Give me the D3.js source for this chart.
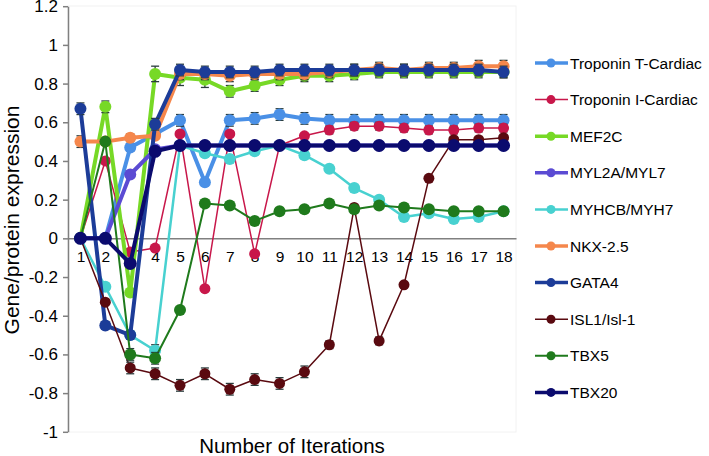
<!DOCTYPE html>
<html>
<head>
<meta charset="utf-8">
<script src="https://cdn.jsdelivr.net/npm/d3@7"></script>
<style>
  body { margin: 0; background: #fff; }
  svg { font-family: "Liberation Sans", Arial, sans-serif; }
</style>
</head>
<body>
<script>
// Iterations on the x axis
const iterations = d3.range(1, 19);
const yTicks = [-1, -0.8, -0.6, -0.4, -0.2, 0, 0.2, 0.4, 0.6, 0.8, 1, 1.2];

const seriesNames = ["Troponin T-Cardiac", "Troponin I-Cardiac", "MEF2C", "MYL2A/MYL7",
  "MYHCB/MYH7", "NKX-2.5", "GATA4", "ISL1/Isl-1", "TBX5", "TBX20"];

// values, one per iteration
const troponinT = [0, 0, 0.47, 0.54, 0.61, 0.29, 0.61, 0.62, 0.64, 0.62, 0.61, 0.61, 0.61, 0.61, 0.61, 0.61, 0.61, 0.61];
const troponinI = [0, 0.4, -0.07, -0.05, 0.54, -0.26, 0.54, -0.08, 0.48, 0.53, 0.56, 0.58, 0.58, 0.57, 0.56, 0.56, 0.57, 0.57];
const mef2c     = [0, 0.68, -0.28, 0.85, 0.83, 0.82, 0.76, 0.79, 0.82, 0.84, 0.84, 0.85, 0.86, 0.86, 0.86, 0.86, 0.86, 0.86];
const myl2a     = [0, 0, 0.33, 0.46, 0.48, 0.48, 0.48, 0.48, 0.48, 0.48, 0.48, 0.48, 0.48, 0.48, 0.48, 0.48, 0.48, 0.48];
const myhcb     = [0, -0.25, -0.5, -0.58, 0.48, 0.44, 0.41, 0.45, 0.48, 0.43, 0.36, 0.26, 0.2, 0.11, 0.13, 0.1, 0.11, 0.14];
const nkx25     = [0.5, 0.5, 0.52, 0.53, 0.85, 0.85, 0.84, 0.85, 0.85, 0.85, 0.86, 0.87, 0.88, 0.87, 0.88, 0.88, 0.89, 0.89];
const gata4     = [0.67, -0.45, -0.5, 0.59, 0.87, 0.86, 0.86, 0.86, 0.87, 0.87, 0.87, 0.87, 0.87, 0.87, 0.87, 0.87, 0.87, 0.86];
const isl1      = [0, -0.33, -0.67, -0.7, -0.76, -0.7, -0.78, -0.73, -0.75, -0.69, -0.55, 0.16, -0.53, -0.24, 0.31, 0.51, 0.51, 0.52];
const tbx5      = [0, 0.5, -0.6, -0.62, -0.37, 0.18, 0.17, 0.09, 0.14, 0.15, 0.18, 0.15, 0.17, 0.16, 0.15, 0.14, 0.14, 0.14];
const tbx20     = [0, 0, -0.13, 0.45, 0.48, 0.48, 0.48, 0.48, 0.48, 0.48, 0.48, 0.48, 0.48, 0.48, 0.48, 0.48, 0.48, 0.48];

// error bar half-heights (0 = no bar)
const errTroponinT = [0, 0, 0.02, 0.02, 0.03, 0, 0.03, 0.03, 0.03, 0.03, 0.03, 0.03, 0.03, 0.03, 0.03, 0.03, 0.03, 0.03];
const errTroponinI = [0, 0, 0, 0, 0, 0, 0, 0, 0, 0, 0.02, 0.02, 0.02, 0.02, 0.02, 0.02, 0.02, 0.02];
const errMef2c     = [0, 0.03, 0, 0.04, 0.04, 0.04, 0.03, 0.03, 0.03, 0.03, 0.03, 0.03, 0.03, 0.03, 0.03, 0.03, 0.03, 0.03];
const errMyl2a     = [0, 0, 0, 0, 0, 0, 0, 0, 0, 0, 0, 0, 0, 0, 0, 0, 0, 0];
const errMyhcb     = [0, 0, 0, 0.03, 0, 0, 0, 0, 0, 0, 0, 0, 0, 0, 0, 0, 0, 0];
const errNkx25     = [0.03, 0, 0.02, 0, 0.03, 0.03, 0.03, 0.03, 0.03, 0.03, 0.03, 0.03, 0.03, 0.03, 0.03, 0.03, 0.03, 0.03];
const errGata4     = [0.03, 0.02, 0.02, 0.03, 0.03, 0.03, 0.03, 0.03, 0.03, 0.03, 0.03, 0.03, 0.03, 0.03, 0.03, 0.03, 0.03, 0.03];
const errIsl1      = [0, 0, 0.03, 0.03, 0.03, 0.03, 0.03, 0.03, 0.03, 0.03, 0.02, 0, 0.02, 0, 0, 0, 0, 0];
const errTbx5      = [0, 0, 0.03, 0.03, 0, 0, 0, 0, 0, 0, 0, 0, 0, 0, 0, 0, 0, 0];
const errTbx20     = [0, 0, 0, 0, 0.02, 0.02, 0.02, 0.02, 0.02, 0.02, 0.02, 0.02, 0.02, 0.02, 0.02, 0.02, 0.02, 0.02];

const seriesValues = [troponinT, troponinI, mef2c, myl2a, myhcb, nkx25, gata4, isl1, tbx5, tbx20];
const seriesErrors = [errTroponinT, errTroponinI, errMef2c, errMyl2a, errMyhcb, errNkx25, errGata4, errIsl1, errTbx5, errTbx20];
const seriesColors = ["#4a90e6", "#c8174a", "#77d926", "#5b4bd3", "#48d1d0",
  "#f5874c", "#1c3c98", "#5a0a10", "#1f7a1c", "#0b0b6e"];
const lineWidths = [4, 1.5, 4, 4, 2.5, 4, 4, 1.5, 2, 4];
const dotRadius  = [6, 5.5, 6, 6, 6, 6, 6, 5.5, 6, 6.5];

const width = 709, height = 456;
const svg = d3.select("body").append("svg")
    .attr("width", width)
    .attr("height", height);

const x = d3.scalePoint().domain(iterations).range([68, 516]).padding(0.5);
const y = d3.scaleLinear().domain([-1, 1.2]).range([431.8, 6.2]);

// faint plot frame
svg.append("rect")
    .attr("x", 68).attr("y", 6)
    .attr("width", 448).attr("height", 426)
    .attr("fill", "none")
    .attr("stroke", "#f2f2f2");

// Y axis
const yAxis = svg.append("g")
    .attr("transform", "translate(68,0)")
    .call(d3.axisLeft(y).tickValues(yTicks).tickFormat(d => String(d)).tickSize(5).tickSizeOuter(0).tickPadding(5));
yAxis.select(".domain").attr("stroke", "#808080").attr("stroke-width", 1.5);
yAxis.selectAll(".tick line").attr("stroke", "#808080").attr("stroke-width", 1.5);
yAxis.selectAll("text").attr("font-size", 17).attr("fill", "#000");

// X axis through zero
const xAxis = svg.append("g")
    .attr("transform", "translate(0," + y(0) + ")")
    .call(d3.axisBottom(x).tickSize(0).tickPadding(13));
xAxis.select(".domain").attr("stroke", "#808080").attr("stroke-width", 1.5);
xAxis.selectAll("text").attr("font-size", 15.5).attr("fill", "#000");

// the series
const line = d3.line()
    .x((d, i) => x(iterations[i]))
    .y(d => y(d));

seriesValues.forEach(function(vals, s) {
  const g = svg.append("g");
  g.append("path")
      .datum(vals)
      .attr("fill", "none")
      .attr("stroke", seriesColors[s])
      .attr("stroke-width", lineWidths[s])
      .attr("stroke-linejoin", "round")
      .attr("d", line);

  // error bars
  const errs = seriesErrors[s];
  const eb = g.selectAll(".err")
      .data(vals.map((v, i) => ({ x: iterations[i], v: v, e: errs[i] })).filter(d => d.e > 0))
      .enter().append("g")
      .attr("stroke", "#2a3c3c")
      .attr("stroke-width", 1.3);
  eb.append("line")
      .attr("x1", d => x(d.x)).attr("x2", d => x(d.x))
      .attr("y1", d => y(d.v - d.e)).attr("y2", d => y(d.v + d.e));
  eb.append("line")
      .attr("x1", d => x(d.x) - 4).attr("x2", d => x(d.x) + 4)
      .attr("y1", d => y(d.v + d.e)).attr("y2", d => y(d.v + d.e));
  eb.append("line")
      .attr("x1", d => x(d.x) - 4).attr("x2", d => x(d.x) + 4)
      .attr("y1", d => y(d.v - d.e)).attr("y2", d => y(d.v - d.e));

  g.selectAll("circle")
      .data(vals)
      .enter().append("circle")
      .attr("cx", (d, i) => x(iterations[i]))
      .attr("cy", d => y(d))
      .attr("r", dotRadius[s])
      .attr("fill", seriesColors[s]);
});

// legend
const legend = svg.append("g");
seriesNames.forEach(function(name, s) {
  const ly = 63 + s * 36.6;
  legend.append("line")
      .attr("x1", 535).attr("x2", 568)
      .attr("y1", ly).attr("y2", ly)
      .attr("stroke", seriesColors[s])
      .attr("stroke-width", Math.min(lineWidths[s], 3.5));
  legend.append("circle")
      .attr("cx", 551).attr("cy", ly)
      .attr("r", 4.5)
      .attr("fill", seriesColors[s]);
  legend.append("text")
      .attr("x", 570).attr("y", ly)
      .attr("dy", "0.36em")
      .attr("font-size", 15.5)
      .text(name);
});

// axis titles
svg.append("text")
    .attr("text-anchor", "middle")
    .attr("transform", "translate(19,220)rotate(-90)")
    .attr("font-size", 21)
    .text("Gene/protein expression");

svg.append("text")
    .attr("text-anchor", "middle")
    .attr("x", 292).attr("y", 453)
    .attr("font-size", 20.5)
    .text("Number of Iterations");
</script>
</body>
</html>
